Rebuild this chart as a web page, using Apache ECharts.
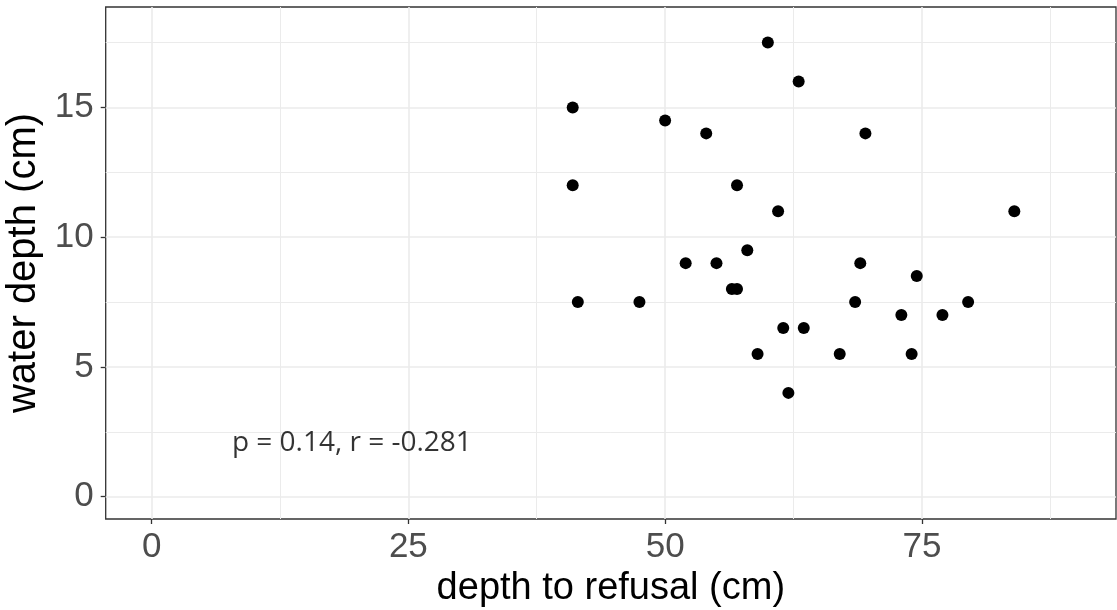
<!DOCTYPE html>
<html>
<head>
<meta charset="utf-8">
<script src="https://cdn.jsdelivr.net/npm/echarts@6/dist/echarts.min.js"></script>
<style>
html,body{margin:0;padding:0;background:#fff;}
#chart{width:1117px;height:610px;}
</style>
</head>
<body>
<div id="chart"></div>
<script>
// Data
const depthToRefusal = [41, 41, 50, 54, 57, 60, 63, 69.5, 61, 41.5, 47.5, 52, 55, 58, 56.5, 57, 61.5, 63.5, 59, 62, 67, 69, 68.5, 74.5, 73, 74, 77, 79.5, 84];
const waterDepth     = [15, 12, 14.5, 14, 12, 17.5, 16, 14, 11, 7.5, 7.5, 9, 9, 9.5, 8, 8, 6.5, 6.5, 5.5, 4, 5.5, 9, 7.5, 8.5, 7, 5.5, 7, 7.5, 11];
const xTicks = [0, 25, 50, 75];
const xMinor = [12.5, 37.5, 62.5, 87.5];
const yTicks = [0, 5, 10, 15];
const yMinor = [2.5, 7.5, 12.5, 17.5];
const annotationText = 'p = 0.14, r = -0.281';
const annotationPos = [19.5, 2.06];
const xTitle = 'depth to refusal (cm)';
const yTitle = 'water depth (cm)';

const points = depthToRefusal.map((d, i) => [d, waterDepth[i]]);

const chart = echarts.init(document.getElementById('chart'), null, {renderer: 'canvas'});
const gridColor = '#ebebeb';
const markLines = []
  .concat(xMinor.map(v => ({xAxis: v, lineStyle: {color: gridColor, width: 1, type: 'solid'}})))
  .concat(yMinor.map(v => ({yAxis: v, lineStyle: {color: gridColor, width: 1, type: 'solid'}})))
  .concat(xTicks.map(v => ({xAxis: v, lineStyle: {color: gridColor, width: 1.6, type: 'solid'}})))
  .concat(yTicks.map(v => ({yAxis: v, lineStyle: {color: gridColor, width: 1.6, type: 'solid'}})));

chart.setOption({
  animation: false,
  backgroundColor: '#ffffff',
  grid: {left: 105.7, right: 1, top: 7, bottom: 91, show: true, borderColor: '#333333', borderWidth: 1.3,
         backgroundColor: 'transparent', containLabel: false, outerBoundsMode: 'none'},
  xAxis: {
    type: 'value', min: -4.47, max: 93.9,
    name: xTitle, nameLocation: 'middle', nameGap: 46,
    nameTextStyle: {fontFamily: 'Liberation Sans', fontSize: 38, color: '#000000'},
    axisLine: {show: false, onZero: false},
    splitLine: {show: false},
    axisTick: {show: true, inside: false, length: 5, customValues: xTicks, lineStyle: {color: '#333333', width: 1.3}},
    axisLabel: {show: true, customValues: xTicks, margin: 11, fontFamily: 'Liberation Sans', fontSize: 35, color: '#4d4d4d'}
  },
  yAxis: {
    type: 'value', min: -0.86, max: 18.87,
    name: yTitle, nameLocation: 'middle', nameGap: 56,
    nameTextStyle: {fontFamily: 'Liberation Sans', fontSize: 40, color: '#000000'},
    axisLine: {show: false, onZero: false},
    splitLine: {show: false},
    axisTick: {show: true, inside: false, length: 5, customValues: yTicks, lineStyle: {color: '#333333', width: 1.3}},
    axisLabel: {show: true, customValues: yTicks, margin: 12, fontFamily: 'Liberation Sans', fontSize: 35, color: '#4d4d4d'}
  },
  series: [
    {
      type: 'scatter', silent: true, symbolSize: 0, data: [],
      markLine: {silent: true, symbol: ['none', 'none'], label: {show: false}, animation: false, data: markLines},
      z: 1
    },
    {
      type: 'scatter', data: points, symbol: 'circle', symbolSize: 12,
      itemStyle: {color: '#000000', opacity: 1}, z: 5
    },
    {
      type: 'scatter', data: [annotationPos], symbolSize: 0, silent: true,
      label: {show: true, position: 'inside', formatter: annotationText, fontFamily: 'Open Sans', fontSize: 28, color: '#000000'},
      z: 6
    }
  ]
});
</script>
</body>
</html>
